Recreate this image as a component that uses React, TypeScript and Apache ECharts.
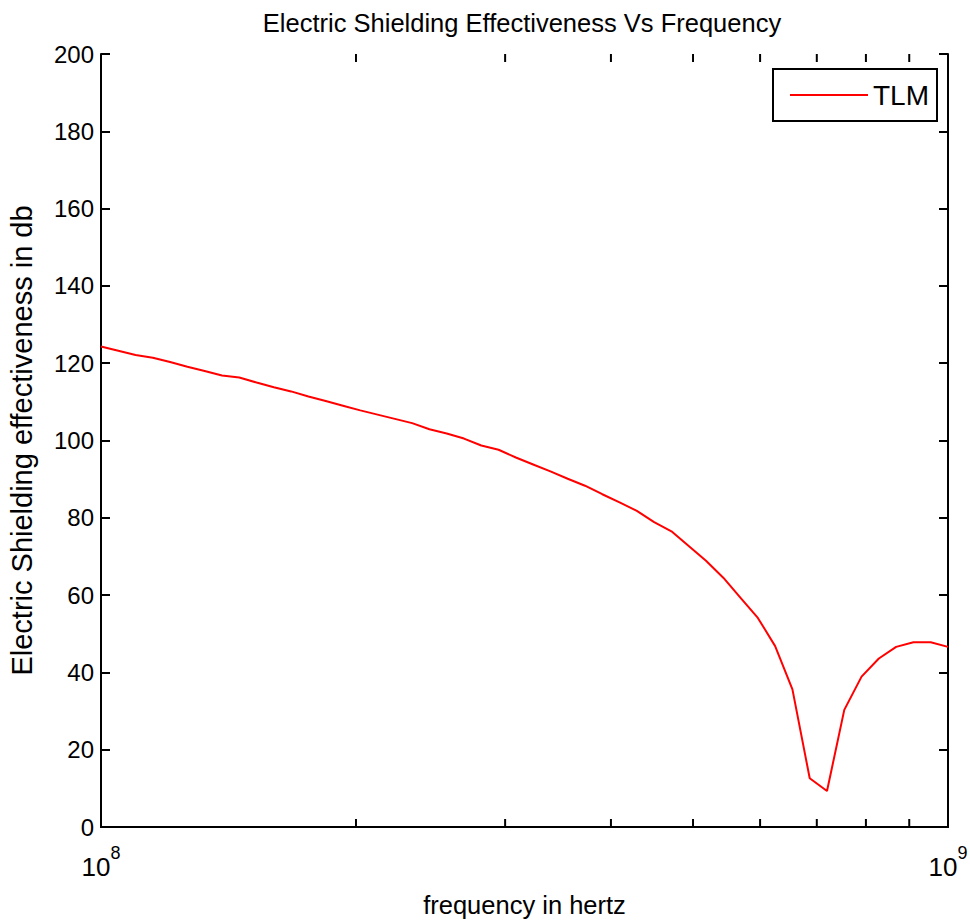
import React, { useEffect, useRef } from "react";
import * as echarts from "echarts";

// Frequencies in MHz (log-spaced samples, 100 MHz .. 1 GHz)
const freqMHz = [
  100, 104.81, 109.85, 115.13, 120.67, 126.47, 132.55, 138.95, 145.63, 152.64,
  159.98, 167.68, 175.75, 184.21, 193.07, 202.36, 212.1, 222.3, 233.0, 244.21,
  255.95, 268.27, 281.18, 294.71, 308.89, 323.75, 339.32, 355.65, 372.76, 390.69,
  409.49, 429.19, 449.84, 471.49, 494.17, 517.95, 542.87, 568.99, 596.36, 625.06,
  655.13, 686.65, 719.69, 754.31, 790.6, 828.64, 868.51, 910.3, 954.09, 1000,
];

// Electric shielding effectiveness (dB), TLM
const tlmDb = [
  124.3, 123.2, 122.1, 121.4, 120.3, 119.1, 118.0, 116.8, 116.3, 115.0,
  113.8, 112.7, 111.4, 110.2, 109.0, 107.8, 106.7, 105.6, 104.5, 102.9,
  101.8, 100.5, 98.7, 97.6, 95.6, 93.8, 92.0, 90.1, 88.3, 86.1,
  84.0, 81.8, 78.9, 76.5, 72.7, 68.9, 64.5, 59.3, 54.1, 46.8,
  35.6, 12.6, 9.3, 30.3, 38.9, 43.6, 46.6, 47.8, 47.8, 46.6,
];

// Minor log ticks (Hz)
const minorTicks = [2e8, 3e8, 4e8, 5e8, 6e8, 7e8, 8e8, 9e8];

const FONT = "Liberation Sans, Arial, sans-serif";

export default function App() {
  const ref = useRef<HTMLDivElement>(null);

  useEffect(() => {
    if (!ref.current) return;
    const chart = echarts.init(ref.current, null, { renderer: "svg" });
    const lineData = freqMHz.map((f, i) => [f * 1e6, tlmDb[i]]);
    const axisLine = { show: true, lineStyle: { color: "#000", width: 2 } };

    chart.setOption({
      animation: false,
      backgroundColor: "#fff",
      textStyle: { fontFamily: FONT, color: "#000" },
      graphic: [
        {
          type: "text",
          x: 522,
          y: 23,
          style: {
            text: "Electric Shielding Effectiveness Vs Frequency",
            fontFamily: FONT,
            fontSize: 25.5,
            fill: "#000",
            textAlign: "center",
            textVerticalAlign: "middle",
          },
        },
      ],
      grid: {
        left: 101,
        right: 22,
        top: 54,
        bottom: 96,
        containLabel: false,
        outerBoundsMode: "none",
      },
      legend: {
        data: ["TLM"],
        left: 773,
        top: 69,
        icon: "rect",
        itemWidth: 78,
        itemHeight: 2,
        padding: [12, 8, 12, 17],
        borderColor: "#000",
        borderWidth: 2,
        borderRadius: 0,
        backgroundColor: "#fff",
        textStyle: { fontFamily: FONT, fontSize: 28, color: "#000" },
      },
      xAxis: [
        {
          type: "log",
          logBase: 10,
          min: 1e8,
          max: 1e9,
          splitNumber: 1,
          position: "bottom",
          axisLine,
          axisTick: { show: false },
          splitLine: { show: false },
          name: "frequency in hertz",
          nameLocation: "middle",
          nameGap: 65,
          nameTextStyle: { fontFamily: FONT, fontSize: 25.5, color: "#000" },
          axisLabel: {
            margin: 17,
            color: "#000",
            formatter: (v: number) => {
              const e = Math.round(Math.log10(v));
              return "{b|10}{s|" + e + "}";
            },
            rich: {
              b: { fontFamily: FONT, fontSize: 26, color: "#000", lineHeight: 36, verticalAlign: "bottom" },
              s: { fontFamily: FONT, fontSize: 18, color: "#000", lineHeight: 36, verticalAlign: "top" },
            },
          },
        },
        {
          type: "log",
          logBase: 10,
          min: 1e8,
          max: 1e9,
          splitNumber: 1,
          position: "top",
          axisLine,
          axisTick: { show: false },
          axisLabel: { show: false },
          splitLine: { show: false },
        },
      ],
      yAxis: [
        {
          type: "value",
          min: 0,
          max: 200,
          interval: 20,
          position: "left",
          axisLine,
          axisTick: { show: true, inside: true, length: 9, lineStyle: { color: "#000", width: 2 } },
          splitLine: { show: false },
          axisLabel: { fontFamily: FONT, fontSize: 24, color: "#000", margin: 7 },
          name: "Electric Shielding effectiveness in db",
          nameLocation: "middle",
          nameGap: 65,
          nameTextStyle: { fontFamily: FONT, fontSize: 29, color: "#000" },
        },
        {
          type: "value",
          min: 0,
          max: 200,
          interval: 20,
          position: "right",
          axisLine,
          axisTick: { show: true, inside: true, length: 9, lineStyle: { color: "#000", width: 2 } },
          splitLine: { show: false },
          axisLabel: { show: false },
        },
      ],
      series: [
        {
          name: "TLM",
          type: "line",
          xAxisIndex: 0,
          yAxisIndex: 0,
          data: lineData,
          showSymbol: false,
          symbol: "none",
          lineStyle: { color: "#ff0000", width: 2 },
          itemStyle: { color: "#ff0000" },
          z: 3,
        },
        {
          type: "custom",
          xAxisIndex: 0,
          yAxisIndex: 0,
          silent: true,
          clip: false,
          data: minorTicks.map((t) => [t, 0]),
          encode: { x: 0, y: 1 },
          renderItem: (params: any, api: any) => {
            const x = api.value(0);
            const pb = api.coord([x, 0]);
            const pt = api.coord([x, 200]);
            const style = { stroke: "#000", lineWidth: 2 };
            return {
              type: "group",
              children: [
                { type: "line", shape: { x1: pb[0], y1: pb[1], x2: pb[0], y2: pb[1] - 8 }, style },
                { type: "line", shape: { x1: pt[0], y1: pt[1], x2: pt[0], y2: pt[1] + 8 }, style },
              ],
            };
          },
          z: 4,
        },
      ],
    });

    return () => chart.dispose();
  }, []);

  return (
    <div
      ref={ref}
      style={{ position: "fixed", left: 0, top: 0, width: 970, height: 923, background: "#fff" }}
    />
  );
}
